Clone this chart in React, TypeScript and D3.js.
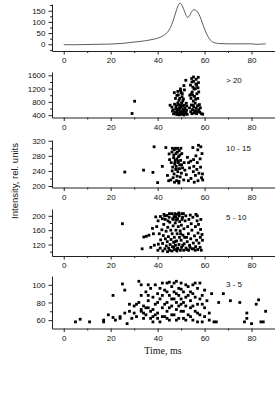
import * as d3 from "d3";
import { useEffect, useRef } from "react";

// time axis (ms)
const timeTicks = [0, 20, 40, 60, 80];

// total signal curve, top panel
const curveTime = [0, 5, 10, 15, 20, 25, 30, 35, 38, 40, 42, 44, 45, 46, 47, 48, 49, 49.5, 50, 51, 52, 52.7, 53.5, 54.5, 55.5, 56.5, 57.5, 58.5, 59.5, 60.5, 61.5, 62.5, 63.5, 65, 67, 70, 75, 80, 82, 86];
const curveValue = [-2, -2, -1, 0, 1, 4, 10, 16, 22, 27, 36, 52, 66, 88, 118, 152, 178, 184, 180, 160, 132, 120, 126, 146, 154, 150, 136, 112, 82, 55, 34, 18, 10, 5, 3, 2, 2, 2, 0, 2];

// scatter groups: [time, intensity]
const groupOver20: [number, number][] = [
  [29.1, 450], [30.2, 820],
  [45.3, 700], [46.1, 640], [46.7, 560], [47.2, 730], [47.4, 480], [47.8, 610], [48.1, 420], [48.3, 530], [47.9, 680], [48.6, 770],
  [48.4, 455], [49.2, 410], [48.9, 565], [49.3, 625], [49.1, 845], [48.8, 1010], [49.6, 485], [49.7, 705], [49.4, 905], [49.8, 1135],
  [50.1, 425], [50.3, 515], [49.9, 645], [50.2, 765], [50.4, 955], [50.1, 1075], [49.7, 1190], [50.6, 455], [50.8, 585], [50.7, 825],
  [50.5, 1045], [51.2, 405], [51.1, 505], [51.3, 700], [51.0, 885], [51.2, 1290], [51.7, 445], [51.6, 615], [51.4, 1160], [52.1, 485],
  [52.3, 555], [52.0, 1450], [52.6, 425], [52.4, 675], [47.1, 1080], [48.2, 995], [48.6, 1115], [47.6, 905], [46.3, 525], [46.8, 440],
  [49.0, 465], [50.0, 445], [48.0, 585], [52.2, 760], [51.1, 565], [49.5, 590], [50.6, 680], [48.7, 720],
  [53.6, 620], [54.1, 505], [54.2, 905], [54.0, 1305], [54.6, 445], [54.4, 705], [54.7, 1095], [54.5, 1505], [55.1, 565], [55.2, 825],
  [54.9, 1005], [55.0, 1245], [55.3, 1420], [55.6, 465], [55.4, 655], [55.7, 965], [55.5, 1185], [55.3, 1550], [56.1, 525], [56.0, 765],
  [56.2, 880], [56.3, 1340], [56.6, 445], [56.5, 605], [56.7, 1045], [56.4, 1480], [57.1, 505], [57.0, 685], [57.2, 1225], [57.3, 1540],
  [57.6, 565], [57.4, 1380], [57.1, 905], [58.0, 485], [58.2, 625], [58.6, 445], [59.2, 430], [54.3, 1040], [56.1, 1200], [55.1, 700],
  [53.7, 1000], [54.6, 1400], [56.6, 1300], [57.5, 1100], [55.8, 520], [57.8, 720], [54.8, 560],
];

const group10to15: [number, number][] = [
  [26, 237], [34, 242], [38, 236], [38.5, 304], [43.5, 302], [42, 252], [40, 209],
  [44.2, 228], [44.7, 214], [45.1, 270], [44.9, 285], [45.6, 216], [46.2, 240], [45.8, 262], [46.1, 290], [46.6, 222], [46.4, 250],
  [46.8, 275], [47.2, 210], [47.0, 232], [47.3, 258], [46.9, 282], [47.1, 296], [47.7, 244], [47.5, 268], [48.1, 214], [48.3, 226],
  [47.9, 252], [48.2, 272], [48.4, 290], [48.6, 238], [48.8, 262], [48.5, 300], [49.1, 212], [49.3, 246], [48.9, 278], [49.2, 294],
  [49.6, 224], [49.4, 256], [49.8, 268], [50.1, 234], [50.3, 286], [49.9, 300], [50.6, 248], [51.1, 216], [51.3, 262], [52.2, 230],
  [52.7, 276], [53.1, 214], [53.6, 248], [54.2, 220], [54.1, 266], [55.2, 238], [55.0, 302], [55.6, 210], [55.4, 252], [56.1, 228],
  [56.3, 280], [56.7, 244], [57.1, 296], [57.2, 214], [56.9, 262], [57.4, 308], [57.6, 234], [58.1, 272], [58.3, 250], [58.4, 304],
  [58.7, 222], [59.1, 232], [58.9, 286], [59.2, 216], [46.3, 300], [49.0, 208], [47.6, 300], [48.0, 245], [51.6, 242], [53.2, 262], [55.3, 270],
  [47.4, 262], [48.7, 266], [49.5, 282], [47.8, 286], [50.2, 256],
];

const group5to10: [number, number][] = [
  [25, 178], [33.4, 108], [34.1, 141], [35.2, 143], [36.3, 146], [37.1, 112], [37.8, 165], [38.2, 150], [38.6, 118], [39.2, 197],
  [39.6, 170], [40.1, 104], [40.3, 121], [40.2, 186], [40.7, 150], [41.1, 110], [41.3, 133], [41.2, 198], [41.8, 161], [42.2, 102],
  [42.1, 123], [42.4, 145], [42.6, 176], [42.7, 204], [43.1, 108], [43.3, 136], [43.2, 190], [43.7, 116], [43.6, 157], [44.2, 100],
  [44.1, 128], [44.3, 168], [44.0, 201], [44.7, 110], [44.6, 142], [45.1, 104], [45.3, 120], [45.2, 182], [44.9, 196], [45.7, 134],
  [45.6, 160], [46.1, 102], [46.3, 114], [46.2, 150], [46.0, 206], [46.8, 126], [46.6, 172], [46.7, 190], [47.2, 106], [47.1, 140],
  [47.0, 198], [47.6, 118], [47.8, 160], [47.5, 180], [48.2, 102], [48.1, 130], [48.3, 150], [47.9, 204], [48.6, 110], [48.8, 170],
  [48.5, 192], [49.1, 120], [49.3, 140], [49.2, 200], [49.7, 104], [49.6, 158], [49.4, 184], [50.2, 112], [50.0, 132], [50.1, 174],
  [50.3, 206], [50.8, 146], [50.6, 196], [51.1, 104], [51.3, 122], [51.2, 164], [51.7, 186], [52.1, 110], [52.3, 140], [52.0, 200],
  [52.6, 128], [52.8, 170], [53.2, 104], [53.1, 150], [53.3, 190], [53.6, 118], [54.1, 136], [54.3, 178], [53.9, 202], [54.7, 108],
  [54.6, 160], [55.2, 124], [55.0, 196], [55.7, 144], [56.0, 104], [56.2, 114], [56.1, 170], [56.3, 204], [56.6, 132], [56.8, 186],
  [57.1, 106], [57.2, 152], [56.9, 200], [57.6, 124], [57.4, 176], [58.1, 112], [58.2, 140], [58.3, 162], [58.6, 104], [58.4, 190],
  [59.1, 132], [58.9, 148], [42.0, 192], [43.0, 200], [45.0, 206], [47.3, 206], [49.0, 208], [51.0, 206], [44.4, 186], [46.4, 192],
  [48.0, 188], [47.7, 196], [48.9, 204], [50.4, 190], [46.9, 112], [48.4, 108], [50.7, 118], [52.4, 106], [55.4, 108], [53.8, 112],
  [49.8, 150], [51.5, 140], [47.4, 128],
];

const group3to5: [number, number][] = [
  [5, 58], [7, 61], [11, 58], [17, 58], [17, 60], [21, 63], [21, 88], [22, 60], [24, 62], [25, 101], [26, 94], [27, 56],
  [28, 78], [29, 62], [30, 76], [31, 78], [32, 104], [33, 100], [33, 72], [34, 62], [34, 68], [35, 92], [36, 82], [36, 74],
  [37, 70], [37, 96], [38, 86], [38, 64], [39, 78], [39, 100], [40, 68], [40, 90], [41, 58], [41, 84], [42, 102], [42, 74],
  [43, 94], [43, 64], [44, 80], [44, 102], [44, 70], [45, 88], [45, 60], [46, 76], [46, 98], [46, 84], [47, 102], [47, 66],
  [47, 92], [48, 80], [48, 72], [48, 104], [49, 88], [49, 62], [49, 96], [50, 78], [50, 84], [50, 102], [51, 70], [51, 92],
  [51, 62], [52, 86], [52, 76], [53, 98], [53, 66], [54, 82], [54, 74], [55, 100], [55, 90], [55, 60], [56, 70], [56, 86],
  [57, 96], [57, 78], [57, 58], [58, 102], [58, 66], [59, 88], [59, 58], [60, 74], [60, 94], [61, 82], [62, 68], [63, 90],
  [64, 58], [65, 58], [66, 80], [68, 90], [71, 82], [75, 80], [77, 58], [78, 62], [78, 68], [80, 56], [82, 78], [83, 83],
  [84, 58], [85, 58], [86, 70],
  [30, 68], [31, 64], [32, 80], [33, 88], [34, 76], [35, 66], [36, 100], [38, 72], [39, 66], [40, 80], [41, 96], [42, 88],
  [43, 78], [44, 92], [45, 74], [46, 66], [47, 84], [48, 90], [49, 76], [50, 70], [51, 80], [52, 100], [53, 88], [54, 92],
  [55, 76], [56, 102], [57, 68], [58, 84], [59, 78], [45, 103], [50, 95], [42, 64], [37, 62], [35, 74], [33, 70], [36, 88],
  [54, 64], [52, 60], [60, 64], [62, 60], [48, 60], [44, 62], [40, 62], [38, 58], [28, 70], [26, 68], [24, 64], [19, 66],
];

const groupLabels = ["> 20", "10 - 15", "5 - 10", "3 - 5"];
const groupData = [groupOver20, group10to15, group5to10, group3to5];

// y ticks per panel (top panel first)
const yTicks = [
  [0, 50, 100, 150],
  [400, 800, 1200, 1600],
  [200, 240, 280, 320],
  [120, 160, 200],
  [60, 80, 100],
];
const yDomains: [number, number][] = [
  [-30, 180],
  [330, 1700],
  [196, 322],
  [88, 219],
  [50.5, 110],
];

function App() {
  const ref = useRef<SVGSVGElement>(null);

  useEffect(() => {
    const svg = d3.select(ref.current);
    svg.selectAll("*").remove();

    const font = "Arial, 'Liberation Sans', sans-serif";
    const x = d3.scaleLinear().domain([-5, 90]).range([52, 275]);

    // panel vertical extents [top, bottom]
    const frames: [number, number][] = [
      [4, 51],
      [72, 117.5],
      [140, 187.5],
      [209, 256],
      [276, 328.5],
    ];
    const minorStep = [25, 200, 20, 20, 10];

    frames.forEach(([top, bottom], i) => {
      const y = d3.scaleLinear().domain(yDomains[i]).range([bottom, top]);
      const g = svg.append("g");

      // x axis, minor then major ticks
      g.append("g")
        .attr("transform", `translate(0,${bottom})`)
        .call(d3.axisBottom(x).tickValues([10, 30, 50, 70]).tickSize(2).tickFormat(() => ""))
        .call((a) => a.select(".domain").remove());
      g.append("g")
        .attr("transform", `translate(0,${bottom})`)
        .call(d3.axisBottom(x).tickValues(timeTicks).tickSize(3.5).tickSizeOuter(0).tickPadding(3).tickFormat(d3.format("d")))
        .call((a) => a.selectAll("text").attr("font-size", 8).attr("font-family", font).attr("fill", "#111"));

      // y axis
      const [d0, d1] = yDomains[i];
      const minors = d3
        .range(Math.ceil(d0 / minorStep[i]) * minorStep[i], d1, minorStep[i])
        .filter((v) => !yTicks[i].includes(v));
      g.append("g")
        .attr("transform", `translate(52,0)`)
        .call(d3.axisLeft(y).tickValues(minors).tickSize(2).tickFormat(() => ""))
        .call((a) => a.select(".domain").remove());
      g.append("g")
        .attr("transform", `translate(52,0)`)
        .call(d3.axisLeft(y).tickValues(yTicks[i]).tickSize(3.5).tickSizeOuter(0).tickPadding(3).tickFormat(d3.format("d")))
        .call((a) => a.selectAll("text").attr("font-size", 8).attr("font-family", font).attr("fill", "#111"));

      g.selectAll(".domain").attr("stroke", "#222");
      g.selectAll(".tick line").attr("stroke", "#222");

      if (i === 0) {
        const line = d3
          .line<number>()
          .x((_, k) => x(curveTime[k]))
          .y((v) => y(v))
          .curve(d3.curveMonotoneX);
        g.append("path")
          .attr("d", line(curveValue))
          .attr("fill", "none")
          .attr("stroke", "#333")
          .attr("stroke-width", 0.8);
      } else {
        const pts = groupData[i - 1];
        g.selectAll("rect.pt")
          .data(pts)
          .enter()
          .append("rect")
          .attr("x", (d) => x(d[0]) - 1.4)
          .attr("y", (d) => y(d[1]) - 1.4)
          .attr("width", 2.8)
          .attr("height", 2.8)
          .attr("fill", "#000");
        g.append("text")
          .attr("x", 226)
          .attr("y", top + 11)
          .attr("font-size", 8)
          .attr("font-family", font)
          .attr("fill", "#111")
          .text(groupLabels[i - 1]);
      }
    });

    svg
      .append("text")
      .attr("transform", "translate(18,181) rotate(-90)")
      .attr("text-anchor", "middle")
      .attr("font-size", 9.5)
      .attr("font-family", font)
      .attr("fill", "#111")
      .text("Intensity, rel. units");

    svg
      .append("text")
      .attr("x", 163)
      .attr("y", 354)
      .attr("text-anchor", "middle")
      .attr("font-size", 10)
      .attr("font-family", "'Liberation Serif', 'Times New Roman', serif")
      .attr("fill", "#111")
      .text("Time, ms");
  }, []);

  return (
    <svg
      ref={ref}
      width={275}
      height={395}
      style={{ position: "absolute", left: 0, top: 0, background: "#fff" }}
    />
  );
}

export default App;
